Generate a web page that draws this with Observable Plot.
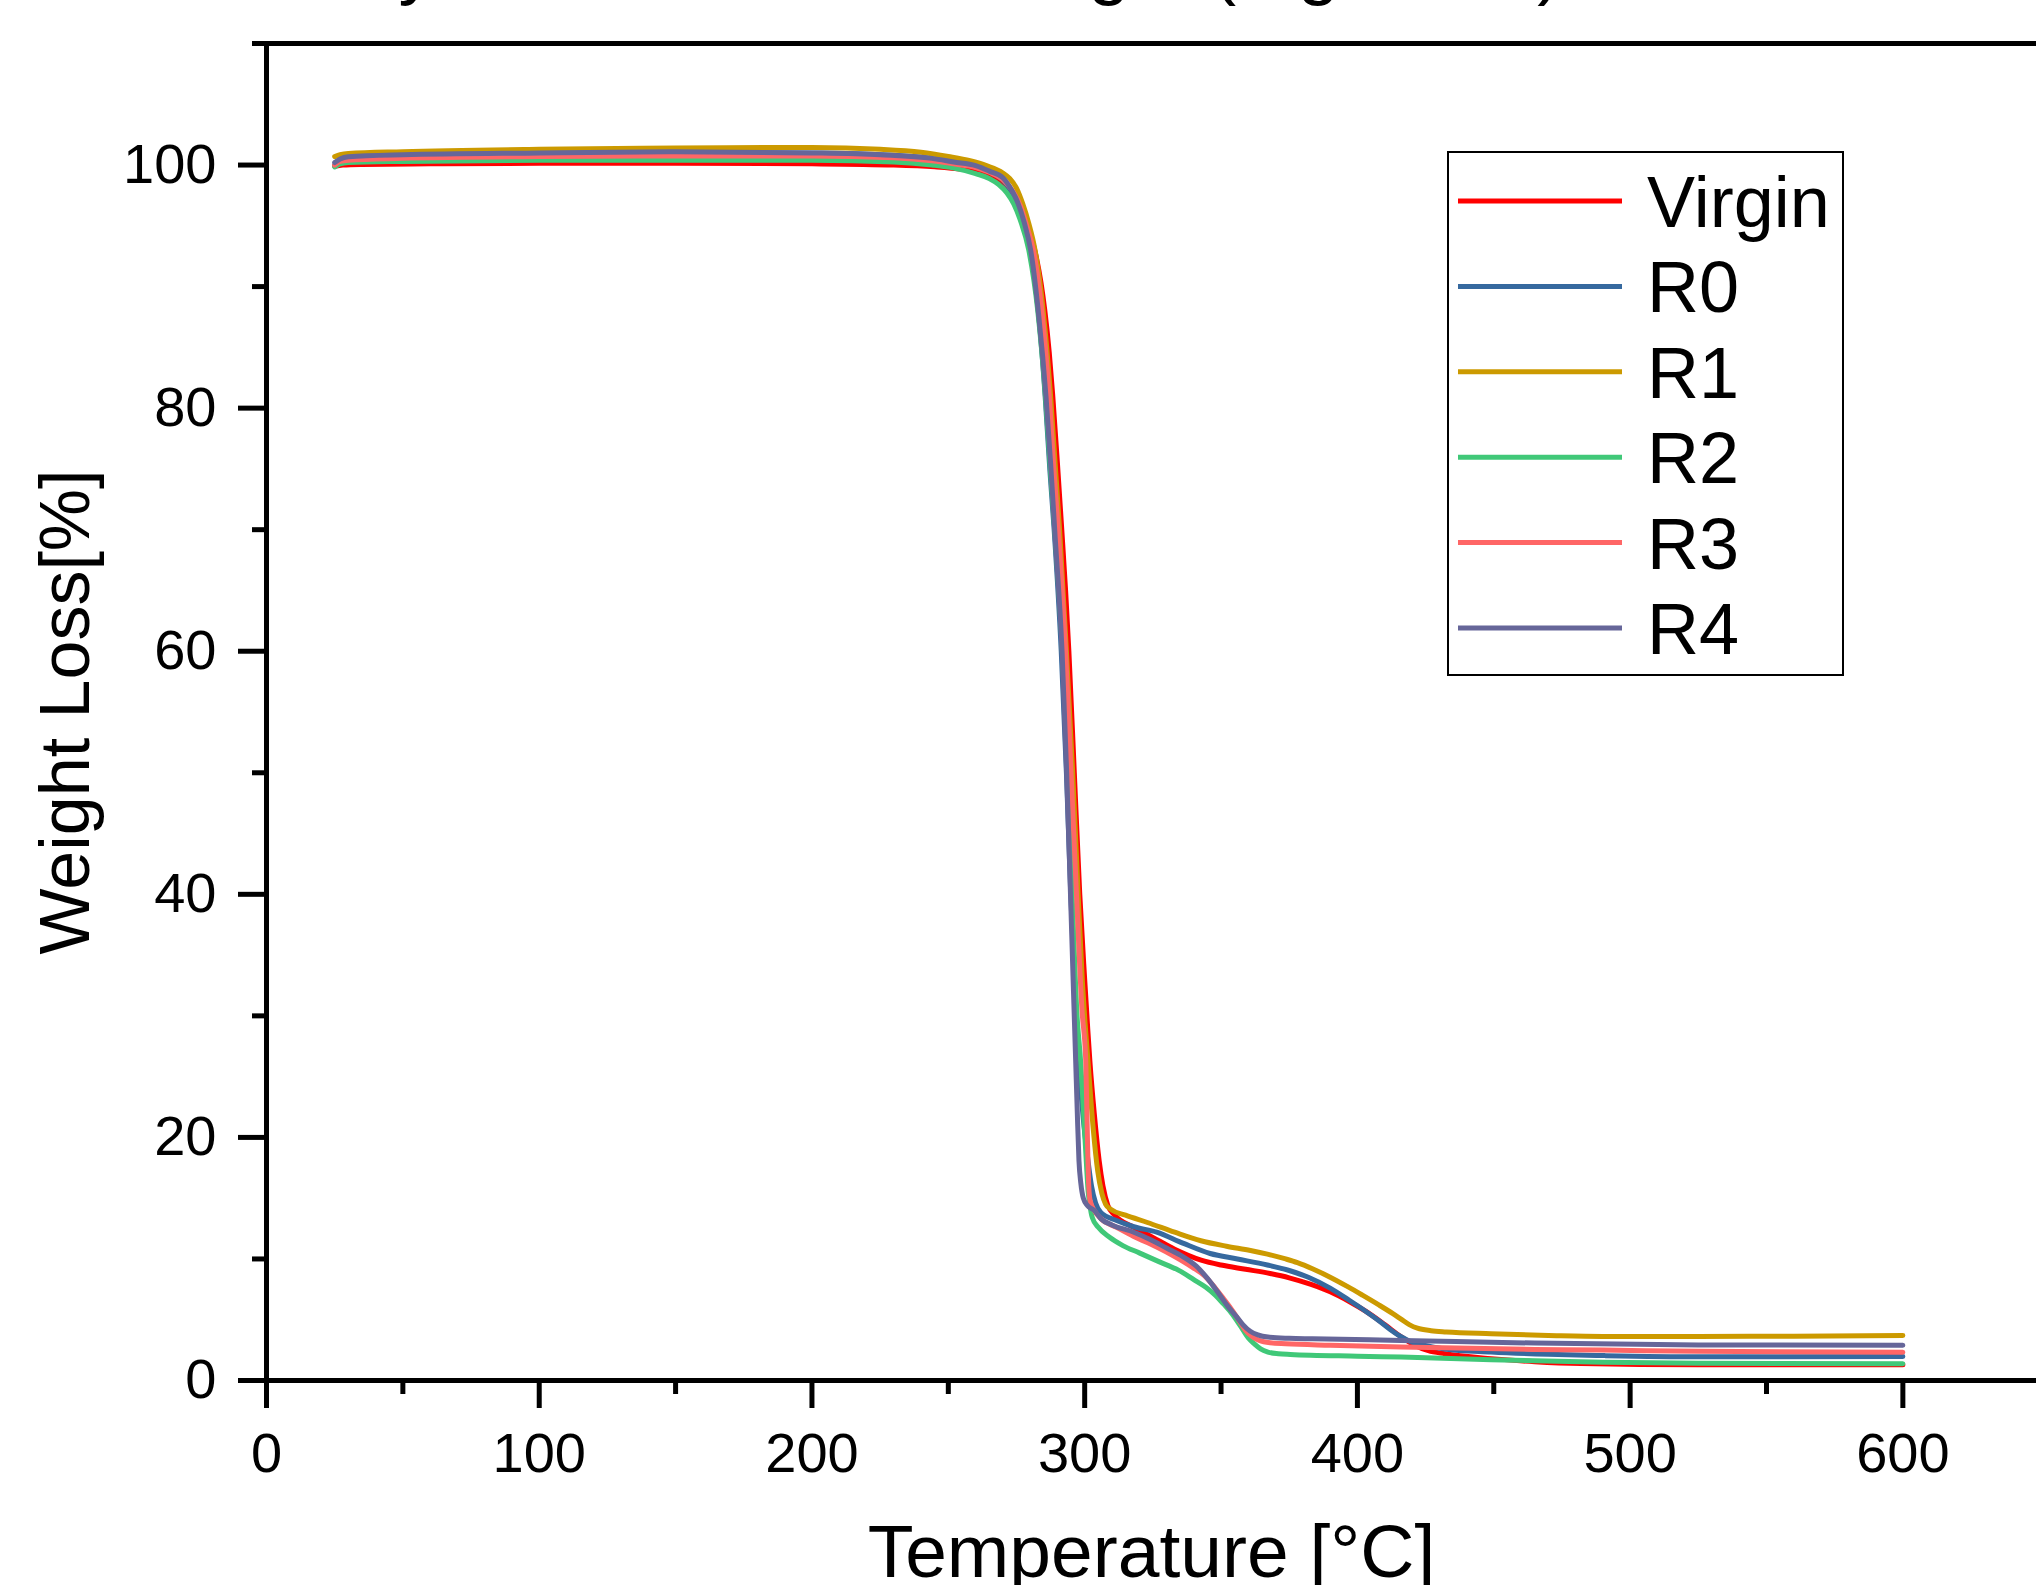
<!DOCTYPE html>
<html>
<head>
<meta charset="utf-8">
<script src="https://cdn.jsdelivr.net/npm/d3@7"></script>
<script src="https://cdn.jsdelivr.net/npm/@observablehq/plot@0.6"></script>
<style>
  html, body { margin: 0; padding: 0; background: #fff; overflow: hidden; }
  #wrap { position: relative; width: 2036px; height: 1585px; overflow: hidden; font-family: "Liberation Sans", Arial, sans-serif; }
  #chart { position: absolute; left: 0; top: 0; }
  #title { position: absolute; left: 86px; top: -71px; font-size: 74px; line-height: 74px; white-space: nowrap; color: #000; }
  #legend { position: absolute; left: 0; top: 0; }
</style>
</head>
<body>
<div id="wrap">
  <div id="chart"></div>
  <div id="title"></div>
  <svg id="legend" width="2036" height="1585"></svg>
</div>
<script>
// ---- text ----
const titleText = "TGA Analysis for Residual Weight (mg vs °C)";
const xLabel = "Temperature [°C]";
const yLabel = "Weight Loss[%]";

// ---- categories / colours ----
const seriesNames = ["Virgin", "R0", "R1", "R2", "R3", "R4"];
const seriesColors = ["#FF0000", "#36699F", "#CC9A00", "#40C878", "#FF6666", "#666699"];

// ---- ticks ----
const xTicks = [0, 100, 200, 300, 400, 500, 600];
const xMinorTicks = [50, 150, 250, 350, 450, 550];
const yTicks = [0, 20, 40, 60, 80, 100];
const yMinorTicks = [10, 30, 50, 70, 90, 110];

// ---- series values: [temperature °C, weight %] ----
const virgin = [[25,99.9],[28,100.0],[35,100.05],[60,100.1],[100,100.15],[150,100.15],[200,100.1],[230,100.0],[245,99.85],[255,99.65],[262,99.4],[267,99.0],[271,98.4],[274.5,97.4],[277.5,96.0],[280,94.4],[282.3,92.4],[284,90.3],[285.4,88.0],[287,84.6],[288.3,81.0],[290,75.5],[291.6,70.0],[293,65.0],[294.2,60.0],[296.2,50.0],[298.2,40.0],[300.0,33.0],[301.1,29.0],[301.9,26.3],[303.5,22.0],[305.3,18.1],[306.7,16.0],[308.5,14.4],[311,13.6],[318,12.6],[324,11.9],[333,10.8],[342.7,9.9],[350,9.5],[359,9.15],[368,8.8],[375,8.45],[383,7.9],[390,7.3],[397,6.5],[403,5.7],[410,4.6],[416,3.6],[421,2.9],[426,2.45],[432,2.2],[449,1.8],[465,1.55],[482,1.4],[525,1.3],[600,1.3]];

const r0 = [[25,100.0],[27,100.4],[30,100.6],[50,100.8],[100,100.95],[150,101.05],[200,101.0],[230,100.8],[245,100.5],[255,100.15],[262,99.75],[266,99.35],[269.8,98.8],[272.5,98.0],[275,96.9],[277.5,95.3],[280,93.0],[283,88.0],[285.5,81.0],[287.2,75.0],[288.8,70.0],[291.4,60.0],[293.3,50.0],[294.9,40.0],[296.8,30.0],[298.2,25.0],[299.5,21.5],[301,18.5],[302.5,16.0],[304,14.6],[306,13.8],[311.7,13.17],[318,12.65],[326.4,12.2],[336,11.3],[346,10.45],[356,10.0],[367,9.5],[375,9.05],[382,8.5],[390,7.6],[397,6.6],[403,5.7],[408,4.9],[412,4.2],[416,3.6],[420,3.15],[424.4,2.9],[432,2.6],[449,2.34],[470,2.15],[490,2.05],[525,1.95],[600,1.98]];

const r1 = [[25,100.7],[27,100.85],[30,100.95],[50,101.1],[100,101.3],[150,101.4],[200,101.45],[225,101.3],[240,101.05],[250,100.7],[258,100.35],[264,99.95],[270,99.35],[272.5,98.9],[275,98.1],[277.3,96.8],[279.5,95.2],[281.8,93.0],[284.8,88.0],[287.5,81.0],[289.3,75.0],[290.8,70.0],[293.3,60.0],[295.6,50.0],[297.6,40.0],[299.1,33.0],[300.1,29.5],[301.2,26.3],[303.1,20.8],[304.8,17.2],[306.3,15.4],[307.7,14.5],[309.5,14.1],[315,13.6],[323,13.0],[333,12.2],[342.6,11.5],[352,11.05],[360.8,10.7],[367,10.4],[373.7,10.0],[378,9.7],[383.5,9.2],[390,8.5],[396.6,7.7],[402,7.0],[408,6.2],[413,5.5],[416,5.05],[419,4.6],[422,4.3],[427,4.1],[432.6,4.0],[449,3.85],[473,3.68],[490,3.62],[525,3.63],[560,3.65],[600,3.7]];

const r2 = [[25,99.85],[27,100.1],[30,100.2],[50,100.3],[100,100.4],[150,100.4],[200,100.4],[230,100.25],[244,100.0],[252,99.75],[260,99.3],[265,98.9],[268.5,98.4],[271.5,97.7],[274,96.8],[276.5,95.4],[279.5,93.0],[282.8,88.0],[285.6,81.0],[287.4,75.0],[289,70.0],[291.8,60.0],[293.8,50.0],[295.4,40.0],[297.2,30.0],[298.5,26.3],[299.6,22.0],[300.6,18.0],[301.3,15.5],[301.8,14.6],[302.8,13.4],[305,12.6],[309,11.8],[314,11.1],[320,10.5],[327,9.8],[334.5,9.06],[340,8.3],[344.3,7.69],[348,7.0],[350.9,6.3],[354,5.5],[357.4,4.39],[360,3.5],[362.3,3.0],[364.5,2.6],[367.2,2.34],[371,2.2],[375.4,2.14],[400,2.0],[416,1.93],[449,1.71],[490,1.51],[525,1.42],[600,1.38]];

const r3 = [[25,100.0],[27,100.3],[30,100.4],[50,100.55],[100,100.7],[150,100.75],[200,100.75],[230,100.6],[244,100.35],[252,100.1],[260,99.8],[265,99.4],[270.5,98.7],[273.5,97.9],[276.5,96.6],[279,94.8],[281.2,93.0],[284.3,88.0],[287,81.0],[288.7,75.0],[290.3,70.0],[293,60.0],[295,50.0],[297,40.0],[299,30.5],[300.4,26.3],[301,20.0],[301.5,16.0],[302,14.8],[303.5,14.0],[306,13.3],[311.7,12.6],[318,11.85],[326.4,10.98],[333,10.2],[339.4,9.33],[344,8.6],[347.6,7.69],[351,6.7],[354.1,5.77],[357,4.8],[359,4.12],[361.5,3.6],[364,3.3],[368,3.1],[373.7,3.02],[390,2.9],[416,2.75],[465,2.55],[490,2.5],[525,2.4],[600,2.33]];

const r4 = [[25,100.2],[27,100.5],[30,100.68],[50,100.85],[100,101.0],[150,101.1],[200,101.0],[225,100.85],[244,100.55],[252,100.25],[260,99.95],[265,99.5],[270,98.95],[272.5,98.2],[275.3,97.0],[277.8,95.3],[280.2,93.0],[283.2,87.5],[285.8,81.0],[287.5,75.5],[289,70.0],[291.7,60.0],[293.4,50.0],[294.8,40.0],[295.9,32.0],[296.7,26.3],[297.3,22.0],[297.9,18.1],[298.6,16.2],[299.5,15.0],[301,14.4],[303.5,14.0],[306,13.3],[310,12.8],[318,12.2],[324,11.6],[330,10.9],[336,10.2],[341,9.4],[345,8.4],[349.2,7.14],[352.5,6.1],[355.8,5.22],[358,4.6],[360.7,4.05],[363.5,3.75],[367.2,3.57],[375,3.47],[383.5,3.43],[416,3.3],[465,3.08],[525,2.93],[600,2.9]];

const seriesData = [virgin, r0, r1, r2, r3, r4];

// ---- build table ----
const rows = [];
seriesNames.forEach((name, i) => {
  seriesData[i].forEach(([t, w]) => rows.push({series: name, t, w}));
});

const FONT = '"Liberation Sans", Arial, Helvetica, sans-serif';

const minorX = Plot.axisTickX
  ? Plot.axisTickX({ticks: xMinorTicks, tickSize: 14, strokeWidth: 5})
  : Plot.axisX({ticks: xMinorTicks, tickSize: 14, strokeWidth: 5, label: null, tickFormat: () => ""});
const minorY = Plot.axisTickY
  ? Plot.axisTickY({ticks: yMinorTicks, tickSize: 14, strokeWidth: 5})
  : Plot.axisY({ticks: yMinorTicks, tickSize: 14, strokeWidth: 5, label: null, tickFormat: () => ""});

const chart = Plot.plot({
  width: 2036,
  height: 1585,
  marginLeft: 266,
  marginRight: 0,
  marginTop: 43,
  marginBottom: 205,
  x: {domain: [0, 649]},
  y: {domain: [0, 110]},
  color: {domain: seriesNames, range: seriesColors},
  style: {fontFamily: FONT, fontSize: "56px", color: "#000", background: "#fff", overflow: "visible"},
  marks: [
    Plot.line(rows, {x: "t", y: "w", z: "series", stroke: "series", strokeWidth: 5, curve: "monotone-x", strokeLinejoin: "round"}),
    Plot.ruleY([110], {strokeWidth: 5, stroke: "#000"}),
    Plot.ruleY([0], {strokeWidth: 5, stroke: "#000"}),
    Plot.ruleX([0], {strokeWidth: 5, stroke: "#000"}),
    Plot.axisX({ticks: xTicks, tickSize: 28, tickPadding: 24, strokeWidth: 5, label: null, tickFormat: d => String(d)}),
    minorX,
    Plot.axisY({ticks: yTicks, tickSize: 28, tickPadding: 22, strokeWidth: 5, label: null, tickFormat: d => String(d)}),
    minorY,
    Plot.text([xLabel], {frameAnchor: "bottom", dy: 172, fontSize: 75, textAnchor: "middle", lineAnchor: "middle", fill: "#000"}),
    Plot.text([yLabel], {frameAnchor: "left", dx: -200, rotate: -90, fontSize: 70, textAnchor: "middle", lineAnchor: "middle", fill: "#000"})
  ]
});
document.getElementById("chart").appendChild(chart);

// ---- title (mostly cropped above the top edge, as in the reference) ----
document.getElementById("title").textContent = titleText;

// ---- legend (box inside the plot area) ----
const legBox = {x: 1448, y: 152, w: 395, h: 523, row0: 201, rowStep: 85.4, lineX1: 1458, lineX2: 1622, textX: 1647};
const leg = d3.select("#legend");
leg.append("rect")
  .attr("x", legBox.x).attr("y", legBox.y)
  .attr("width", legBox.w).attr("height", legBox.h)
  .attr("fill", "none").attr("stroke", "#000").attr("stroke-width", 2);
seriesNames.forEach((name, i) => {
  const cy = legBox.row0 + i * legBox.rowStep;
  leg.append("line")
    .attr("x1", legBox.lineX1).attr("x2", legBox.lineX2)
    .attr("y1", cy).attr("y2", cy)
    .attr("stroke", seriesColors[i]).attr("stroke-width", 5);
  leg.append("text")
    .attr("x", legBox.textX).attr("y", cy + 26)
    .attr("font-family", FONT).attr("font-size", 72)
    .attr("fill", "#000")
    .text(name);
});
</script>
</body>
</html>
